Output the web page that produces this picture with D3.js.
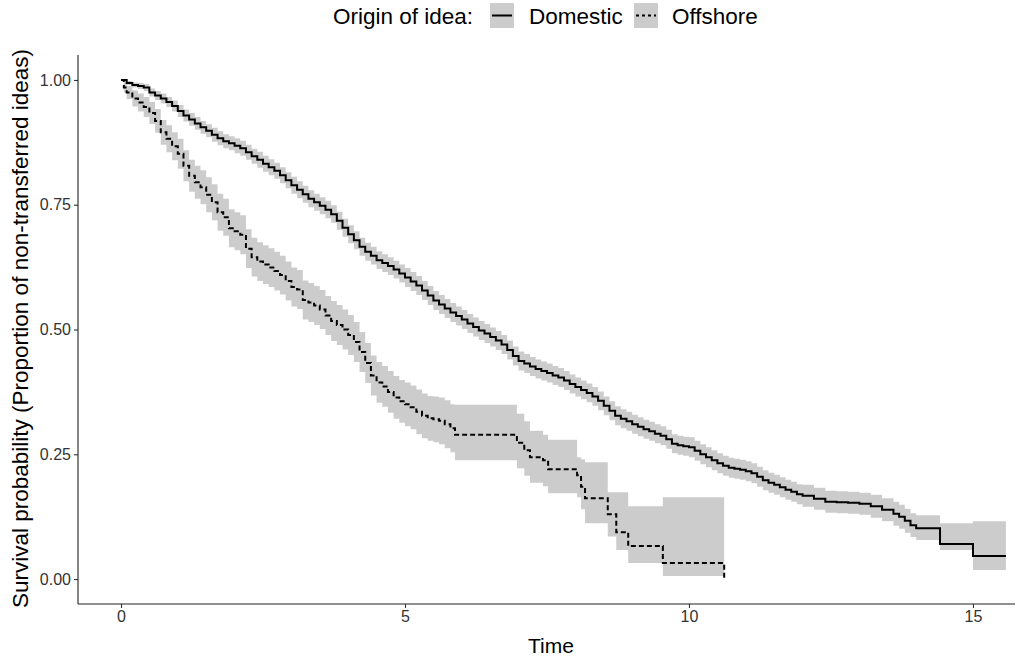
<!DOCTYPE html>
<html>
<head>
<meta charset="utf-8">
<script src="https://cdn.jsdelivr.net/npm/d3@7/dist/d3.min.js"></script>
<style>
  html, body { margin: 0; padding: 0; background: #fff; }
  svg { display: block; font-family: "Liberation Sans", Arial, sans-serif; }
</style>
</head>
<body>
<svg id="chart" width="1017" height="659"></svg>
<script>
// ---------------- data ----------------
const legendTitle = "Origin of idea:";
const groupNames = ["Domestic", "Offshore"];
const xTicks = [0, 5, 10, 15];
const yTicks = [0, 0.25, 0.5, 0.75, 1];
const xTitle = "Time";
const yTitle = "Survival probability (Proportion of non-transferred ideas)";

const domTime = [0,0.1,0.2,0.3,0.4,0.5,0.6,0.7,0.8,0.9,1.0,1.1,1.2,1.3,1.4,1.5,1.6,1.7,1.8,1.9,
  2.0,2.1,2.2,2.3,2.4,2.5,2.6,2.7,2.8,2.9,3.0,3.1,3.2,3.3,3.4,3.5,3.6,3.7,3.8,3.9,
  4.0,4.1,4.2,4.3,4.4,4.5,4.6,4.7,4.8,4.9,5.0,5.1,5.2,5.3,5.4,5.5,5.6,5.7,5.8,5.9,
  6.0,6.1,6.2,6.3,6.4,6.5,6.6,6.7,6.8,6.9,7.0,7.1,7.2,7.3,7.4,7.5,7.6,7.7,7.8,7.9,
  8.0,8.1,8.2,8.3,8.4,8.5,8.6,8.7,8.8,8.9,9.0,9.1,9.2,9.3,9.4,9.5,9.6,9.7,9.8,9.9,
  10.0,10.1,10.2,10.3,10.4,10.5,10.6,10.7,10.8,10.9,11.0,11.1,11.2,11.3,11.4,11.5,11.6,11.7,11.8,11.9,
  12.0,12.2,12.4,12.6,12.8,13.0,13.2,13.4,13.6,13.7,13.8,13.9,14.0,14.42,15.0,15.58];
const domSurv = [1.000,0.994,0.990,0.988,0.985,0.975,0.969,0.963,0.956,0.948,0.938,0.929,0.921,0.913,0.905,0.898,0.890,0.883,0.877,0.873,
  0.868,0.863,0.855,0.847,0.840,0.832,0.825,0.818,0.809,0.799,0.789,0.780,0.771,0.762,0.755,0.748,0.740,0.731,0.718,0.704,
  0.691,0.679,0.666,0.656,0.648,0.639,0.633,0.627,0.620,0.612,0.604,0.596,0.588,0.578,0.568,0.558,0.550,0.542,0.534,0.527,
  0.520,0.512,0.505,0.498,0.492,0.485,0.478,0.470,0.459,0.447,0.437,0.432,0.426,0.421,0.417,0.413,0.408,0.404,0.398,0.391,
  0.385,0.379,0.373,0.366,0.357,0.347,0.337,0.327,0.321,0.316,0.310,0.305,0.300,0.296,0.291,0.287,0.280,0.271,0.268,0.266,
  0.264,0.257,0.250,0.244,0.238,0.232,0.227,0.223,0.221,0.219,0.216,0.212,0.205,0.198,0.193,0.189,0.184,0.179,0.175,0.170,
  0.167,0.161,0.155,0.154,0.153,0.151,0.146,0.139,0.131,0.125,0.117,0.108,0.102,0.070,0.046,0.046];
const domLower = [1.000,0.990,0.985,0.982,0.978,0.967,0.960,0.953,0.946,0.937,0.926,0.917,0.908,0.900,0.892,0.885,0.876,0.869,0.863,0.859,
  0.853,0.848,0.840,0.832,0.824,0.816,0.809,0.802,0.793,0.783,0.772,0.763,0.754,0.745,0.738,0.731,0.723,0.714,0.700,0.686,
  0.673,0.661,0.648,0.638,0.630,0.621,0.615,0.609,0.602,0.594,0.585,0.577,0.569,0.559,0.549,0.539,0.531,0.523,0.515,0.508,
  0.501,0.493,0.486,0.479,0.473,0.466,0.459,0.451,0.440,0.428,0.418,0.413,0.407,0.402,0.398,0.394,0.389,0.385,0.379,0.372,
  0.366,0.360,0.354,0.347,0.338,0.328,0.318,0.308,0.302,0.297,0.291,0.286,0.281,0.277,0.272,0.268,0.261,0.252,0.249,0.247,
  0.244,0.237,0.230,0.224,0.218,0.212,0.207,0.203,0.201,0.199,0.196,0.192,0.185,0.178,0.173,0.169,0.164,0.159,0.155,0.150,
  0.145,0.139,0.133,0.132,0.131,0.129,0.123,0.116,0.107,0.101,0.093,0.084,0.078,0.058,0.018,0.018];
const domUpper = [1.000,0.998,0.995,0.994,0.992,0.983,0.978,0.973,0.966,0.959,0.950,0.941,0.934,0.926,0.918,0.911,0.904,0.897,0.891,0.887,
  0.883,0.878,0.870,0.862,0.856,0.848,0.841,0.834,0.825,0.815,0.806,0.797,0.788,0.779,0.772,0.765,0.758,0.749,0.736,0.722,
  0.709,0.697,0.684,0.674,0.666,0.657,0.651,0.645,0.638,0.630,0.623,0.615,0.607,0.597,0.587,0.577,0.569,0.561,0.553,0.546,
  0.539,0.531,0.524,0.517,0.511,0.504,0.497,0.489,0.478,0.466,0.456,0.451,0.445,0.440,0.436,0.432,0.427,0.423,0.417,0.410,
  0.404,0.398,0.392,0.385,0.376,0.366,0.356,0.346,0.340,0.335,0.329,0.324,0.319,0.315,0.310,0.306,0.299,0.290,0.287,0.285,
  0.284,0.277,0.270,0.264,0.258,0.252,0.247,0.243,0.241,0.239,0.236,0.232,0.225,0.218,0.213,0.209,0.204,0.199,0.195,0.190,
  0.189,0.183,0.177,0.176,0.175,0.173,0.169,0.162,0.155,0.149,0.141,0.132,0.128,0.112,0.116,0.116];

const offTime = [0,0.05,0.1,0.2,0.3,0.4,0.5,0.6,0.7,0.8,0.9,1.0,1.1,1.2,1.3,1.4,1.5,1.6,1.7,1.8,1.9,
  2.0,2.1,2.2,2.3,2.4,2.5,2.6,2.7,2.8,2.9,3.0,3.1,3.2,3.3,3.4,3.5,3.6,3.7,3.8,3.9,
  4.0,4.1,4.2,4.3,4.4,4.5,4.6,4.7,4.8,4.9,5.0,5.1,5.2,5.3,5.4,5.5,5.6,5.7,5.8,5.88,
  6.97,7.1,7.2,7.43,7.52,8.03,8.1,8.17,8.57,8.72,8.93,9.54,10.62];
const offSurv = [1.000,0.985,0.975,0.963,0.955,0.946,0.934,0.918,0.895,0.882,0.867,0.852,0.828,0.808,0.795,0.785,0.770,0.755,0.735,0.725,0.703,
  0.697,0.690,0.662,0.645,0.636,0.630,0.624,0.617,0.609,0.597,0.585,0.580,0.559,0.554,0.548,0.540,0.528,0.517,0.509,0.500,
  0.489,0.475,0.455,0.433,0.408,0.394,0.386,0.375,0.364,0.356,0.350,0.344,0.335,0.327,0.322,0.320,0.317,0.310,0.302,0.289,
  0.273,0.258,0.244,0.238,0.220,0.208,0.185,0.162,0.130,0.094,0.066,0.032,0.000];
const offLower = [1.000,0.975,0.962,0.947,0.937,0.926,0.912,0.894,0.870,0.855,0.839,0.822,0.797,0.776,0.762,0.751,0.735,0.719,0.698,0.688,0.665,
  0.659,0.651,0.623,0.606,0.597,0.591,0.585,0.578,0.570,0.558,0.546,0.541,0.520,0.515,0.509,0.501,0.489,0.477,0.469,0.460,
  0.449,0.435,0.415,0.393,0.368,0.353,0.345,0.333,0.321,0.313,0.306,0.300,0.290,0.282,0.277,0.274,0.270,0.262,0.254,0.238,
  0.222,0.207,0.193,0.186,0.172,0.164,0.140,0.112,0.085,0.058,0.032,0.006,0.006];
const offUpper = [1.000,0.995,0.988,0.979,0.973,0.966,0.956,0.942,0.920,0.909,0.895,0.882,0.859,0.840,0.828,0.819,0.805,0.791,0.772,0.762,0.741,
  0.735,0.729,0.701,0.684,0.675,0.669,0.663,0.656,0.648,0.636,0.624,0.619,0.598,0.593,0.587,0.579,0.567,0.557,0.549,0.540,
  0.529,0.515,0.495,0.473,0.448,0.435,0.427,0.417,0.407,0.399,0.394,0.388,0.380,0.372,0.367,0.366,0.364,0.358,0.350,0.349,
  0.331,0.316,0.297,0.289,0.279,0.244,0.240,0.234,0.174,0.174,0.146,0.164,0.164];

// ---------------- layout ----------------
const svg = d3.select("#chart");
const plotLeft = 78, plotRight = 1015, plotTop = 55, plotBottom = 604;

const x = d3.scaleLinear().domain([-0.757, 15.74]).range([plotLeft, plotRight]);
const y = d3.scaleLinear().domain([-0.05, 1.05]).range([plotBottom, plotTop]);

function rows(t, s, lo, hi) {
  return t.map((d, i) => ({ t: d, s: s[i], lo: lo[i], hi: hi[i] }));
}
const groups = [
  { name: groupNames[0], data: rows(domTime, domSurv, domLower, domUpper), dash: null },
  { name: groupNames[1], data: rows(offTime, offSurv, offLower, offUpper), dash: "5,3" }
];

const area = d3.area().curve(d3.curveStepAfter)
  .x(d => x(d.t)).y0(d => y(d.lo)).y1(d => y(d.hi));
const line = d3.line().curve(d3.curveStepAfter)
  .x(d => x(d.t)).y(d => y(d.s));

const g = svg.append("g");
groups.forEach(grp => {
  g.append("path").attr("d", area(grp.data))
    .attr("fill", "#000").attr("fill-opacity", 0.2).attr("stroke", "none");
});
groups.forEach(grp => {
  const p = g.append("path").attr("d", line(grp.data))
    .attr("fill", "none").attr("stroke", "#000").attr("stroke-width", 2);
  if (grp.dash) p.attr("stroke-dasharray", grp.dash);
});

// axes
const xAxis = d3.axisBottom(x).tickValues(xTicks).tickFormat(d3.format("d")).tickSizeOuter(0).tickSize(4).tickPadding(3);
const yAxis = d3.axisLeft(y).tickValues(yTicks).tickFormat(d3.format(".2f")).tickSizeOuter(0).tickSize(4).tickPadding(3);

const gx = svg.append("g").attr("transform", `translate(0,${plotBottom})`).call(xAxis);
const gy = svg.append("g").attr("transform", `translate(${plotLeft},0)`).call(yAxis);
[gx, gy].forEach(a => {
  a.select(".domain").remove();
  a.selectAll(".tick line").attr("stroke", "#333").attr("stroke-width", 1.1);
  a.selectAll(".tick text").attr("fill", "#333").attr("font-size", 16)
    .attr("font-family", "'Liberation Sans', Arial, sans-serif");
});
svg.append("line").attr("x1", plotLeft).attr("x2", plotRight).attr("y1", plotBottom).attr("y2", plotBottom)
  .attr("stroke", "#222").attr("stroke-width", 1.1);
svg.append("line").attr("x1", plotLeft).attr("x2", plotLeft).attr("y1", plotTop).attr("y2", plotBottom)
  .attr("stroke", "#222").attr("stroke-width", 1.1);

// titles
svg.append("text").attr("x", 551).attr("y", 653)
  .attr("text-anchor", "middle").attr("font-size", 21).attr("fill", "#000").text(xTitle);
svg.append("text").attr("transform", `translate(28,${(plotTop + plotBottom) / 2 - 1}) rotate(-90)`)
  .attr("text-anchor", "middle").attr("font-size", 22.5).attr("fill", "#000").text(yTitle);

// legend
const lg = svg.append("g");
lg.append("text").attr("x", 333).attr("y", 24).attr("font-size", 22.5).attr("fill", "#000").text(legendTitle);
const keyX = [490, 634];
const labX = [529, 672];
groups.forEach((grp, i) => {
  lg.append("rect").attr("x", keyX[i]).attr("y", 3).attr("width", 24).attr("height", 25)
    .attr("fill", "#000").attr("fill-opacity", 0.2);
  const l = lg.append("line").attr("x1", keyX[i] + 2).attr("x2", keyX[i] + 22)
    .attr("y1", 15.5).attr("y2", 15.5).attr("stroke", "#000").attr("stroke-width", 2);
  if (grp.dash) l.attr("stroke-dasharray", "3,3");
  lg.append("text").attr("x", labX[i]).attr("y", 24).attr("font-size", 22.5).attr("fill", "#000").text(grp.name);
});
</script>
</body>
</html>
